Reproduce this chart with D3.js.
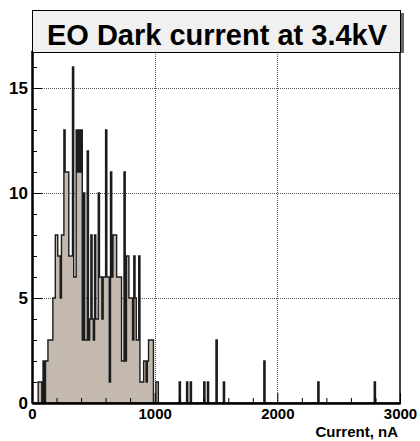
<!DOCTYPE html>
<html><head><meta charset="utf-8">
<script src="https://cdn.jsdelivr.net/npm/d3@7"></script>
<style>
body{margin:0;background:#fff;}
svg text{font-family:"Liberation Sans",Arial,Helvetica,sans-serif;font-weight:bold;fill:#000;}
</style>
</head><body>
<svg id="chart" width="420" height="441"></svg>
<script>
const titleText = "EO Dark current at 3.4kV";
const xAxisTitle = "Current, nA";
const binWidth = 10;
const xDomain = [0, 3000];
const yDomain = [0, 16.8];
// counts of the 10 nA bins starting at 0, 10, 20 ... 1030
const lowCounts = [0,0,0,0,0, 1,1,1,0,2, 0,2,2,3,3, 3,3,5,5,8, 8,7,7,5,8, 8,13,11,11,11,
  7,7,7,16,6, 6,13,11,13,11, 13,3,10,3,3, 12,3,4,8,4, 3,8,4,4,10, 6,6,4,6,6,
  13,6,6,1,11, 6,8,8,8,6, 6,6,6,2,2, 11,2,7,7,5, 5,5,3,7,5, 3,3,7,1,1,
  1,2,2,1,2, 3,3,3,3,0, 0,1,1,0];
// isolated bins in the tail (bin low edge, count)
const tailBinStarts = [1200, 1260, 1290, 1400, 1430, 1500, 1560, 1890, 2330, 2790];
const tailCounts = [1, 1, 1, 1, 1, 3, 1, 2, 1, 1];
const xMajorTicks = [0, 1000, 2000, 3000];
const yMajorTicks = [0, 5, 10, 15];

const nBins = (xDomain[1] - xDomain[0]) / binWidth;
const counts = new Array(nBins).fill(0);
lowCounts.forEach((c, i) => counts[i] = c);
tailBinStarts.forEach((s, i) => counts[Math.round(s / binWidth)] = tailCounts[i]);

const svg = d3.select("#chart");
const L = 32, R = 400, B = 403;
const x = d3.scaleLinear().domain(xDomain).range([L, R]);
const y = d3.scaleLinear().domain(yDomain).range([B, B - 21 * 16.8]);
const T = y(yDomain[1]);

svg.append("rect").attr("width", 420).attr("height", 441).attr("fill", "#fff");

// grid
const grid = svg.append("g").attr("stroke", "#555").attr("stroke-width", 1).attr("stroke-dasharray", "1,1");
grid.selectAll(".gx").data(xMajorTicks.filter(v => v > xDomain[0] && v < xDomain[1])).join("line")
  .attr("x1", d => Math.round(x(d)) + 0.5).attr("x2", d => Math.round(x(d)) + 0.5)
  .attr("y1", B).attr("y2", T);
grid.selectAll(".gy").data(yMajorTicks.filter(v => v > 0)).join("line")
  .attr("y1", d => Math.round(y(d)) + 0.5).attr("y2", d => Math.round(y(d)) + 0.5)
  .attr("x1", L).attr("x2", R);

// histogram
const pts = [[xDomain[0], 0]];
counts.forEach((c, i) => {
  const lo = xDomain[0] + i * binWidth;
  pts.push([lo, c], [lo + binWidth, c]);
});
pts.push([xDomain[1], 0]);
const line = d3.line().x(d => x(d[0])).y(d => y(d[1]));
svg.append("path").attr("d", line(pts) + "Z")
  .attr("fill", "#c3b9ae").attr("stroke", "#1c1c1c").attr("stroke-width", 1.4)
  .attr("stroke-linejoin", "miter");

// axes
const yAxis = d3.axisLeft(y).tickValues(yMajorTicks).tickSizeInner(-10).tickSizeOuter(0).tickPadding(4).tickFormat(d3.format("d"));
const yMinor = d3.axisLeft(y).tickValues(d3.range(0, 17, 1).filter(v => v % 5 !== 0)).tickSizeInner(-5).tickSizeOuter(0).tickFormat("");
const xAxis = d3.axisBottom(x).tickValues(xMajorTicks).tickSizeInner(-10).tickSizeOuter(0).tickPadding(5).tickFormat(d3.format("d"));
const xMinor = d3.axisBottom(x).tickValues(d3.range(200, 3000, 200).filter(v => v % 1000 !== 0)).tickSizeInner(-5).tickSizeOuter(0).tickFormat("");

function styleAxis(g, fs) {
  g.select(".domain").attr("stroke", "#000").attr("stroke-width", 2);
  g.selectAll(".tick line").attr("stroke", "#000").attr("stroke-width", 1);
  g.selectAll("text").attr("font-size", fs).attr("font-weight", "bold")
    .attr("font-family", '"Liberation Sans",Arial,sans-serif').attr("fill", "#000");
}
svg.append("g").attr("transform", `translate(${L},0)`).call(yMinor).call(g => styleAxis(g, 15));
svg.append("g").attr("transform", `translate(${L},0)`).call(yAxis).call(g => styleAxis(g, 17));
svg.append("g").attr("transform", `translate(0,${B})`).call(xMinor).call(g => styleAxis(g, 15));
svg.append("g").attr("transform", `translate(0,${B})`).call(xAxis).call(g => styleAxis(g, 15));

// right frame
svg.append("line").attr("x1", R).attr("x2", R).attr("y1", T).attr("y2", B + 1)
  .attr("stroke", "#000").attr("stroke-width", 1.5);

// axis title
svg.append("text").attr("x", 398).attr("y", 437).attr("text-anchor", "end")
  .attr("font-size", 15).text(xAxisTitle);

// title box
svg.append("rect").attr("x", R + 1).attr("y", 13).attr("width", 3).attr("height", 40).attr("fill", "#666");
svg.append("rect").attr("x", L + 0.5).attr("y", 10.5).attr("width", R - L).attr("height", 42)
  .attr("fill", "#f0f0f0").attr("stroke", "#000").attr("stroke-width", 1);
svg.append("text").attr("x", (L + R) / 2 + 1).attr("y", 44.5).attr("text-anchor", "middle")
  .attr("font-size", 29).text(titleText);
</script>
</body></html>
